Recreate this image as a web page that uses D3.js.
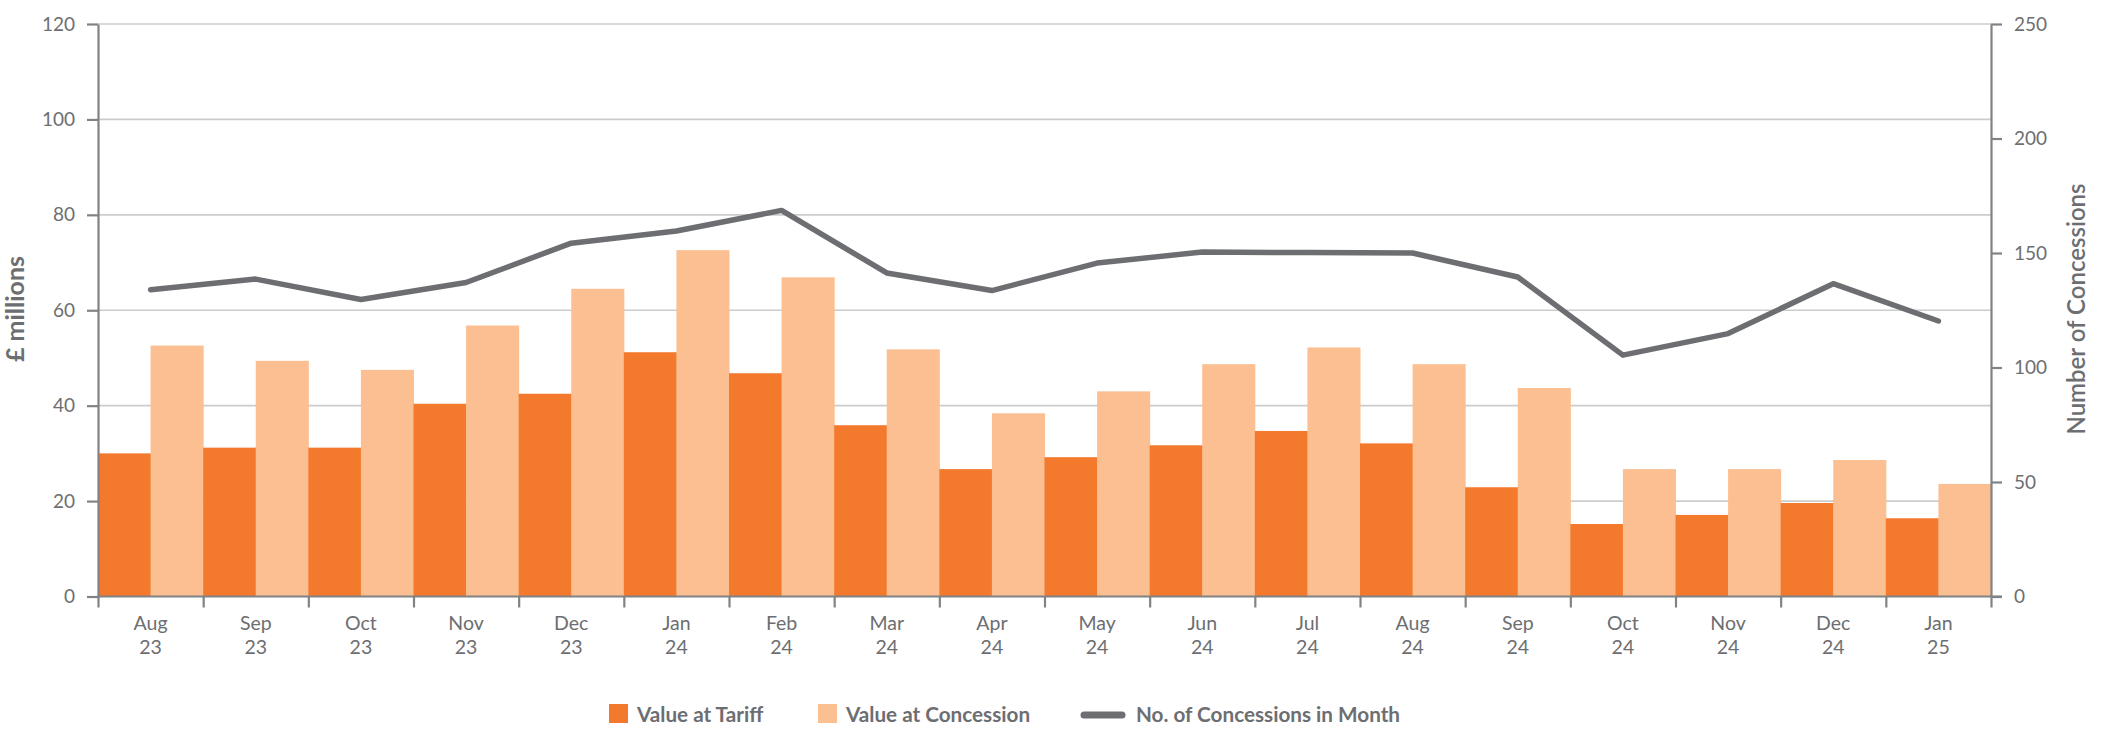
<!DOCTYPE html>
<html>
<head>
<meta charset="utf-8">
<script src="https://cdn.jsdelivr.net/npm/d3@7"></script>
<style>
  html, body { margin: 0; padding: 0; background: #fff; }
  svg { display: block; }
  text { font-family: Lato, "Open Sans", sans-serif; fill: #6d6e71; }
</style>
</head>
<body>
<svg id="chart" width="2112" height="736"></svg>
<script>
// ---- data ----
const months = ["Aug|23","Sep|23","Oct|23","Nov|23","Dec|23","Jan|24","Feb|24","Mar|24","Apr|24","May|24","Jun|24","Jul|24","Aug|24","Sep|24","Oct|24","Nov|24","Dec|24","Jan|25"];
const valueAtTariff = [30.0, 31.2, 31.2, 40.4, 42.5, 51.2, 46.8, 35.9, 26.7, 29.2, 31.7, 34.7, 32.1, 22.9, 15.2, 17.1, 19.6, 16.4];
const valueAtConcession = [52.6, 49.4, 47.5, 56.8, 64.5, 72.6, 66.9, 51.8, 38.4, 43.0, 48.7, 52.2, 48.7, 43.7, 26.7, 26.7, 28.6, 23.6];
const concessions = [134, 138.6, 129.7, 137.1, 154.3, 159.6, 168.6, 141.3, 133.6, 145.6, 150.4, 150.2, 150.0, 139.5, 105.4, 114.8, 136.6, 120.3];
const leftTicks = [0, 20, 40, 60, 80, 100, 120];
const rightTicks = [0, 50, 100, 150, 200, 250];
const seriesNames = ["Value at Tariff", "Value at Concession", "No. of Concessions in Month"];
const colors = { tariff: "#f37a2d", concession: "#fbbf91", line: "#6d6e71", grid: "#cccccc", axis: "#808285" };

(function () {
// ---- layout ----
const svg = d3.select("#chart");
const pL = 98, pR = 1991, pT = 24, pB = 596.5;

const x = d3.scaleBand().domain(months).range([pL, pR]).padding(0);
const xs = d3.scaleBand().domain(["tariff", "concession"]).range([0, x.bandwidth()]).padding(0);
const yL = d3.scaleLinear().domain([0, 120]).range([pB, pT]);
const yR = d3.scaleLinear().domain([0, 250]).range([pB, pT]);

// gridlines
svg.append("g").selectAll("line").data(leftTicks.filter(d => d > 0)).join("line")
  .attr("x1", pL).attr("x2", pR)
  .attr("y1", d => yL(d)).attr("y2", d => yL(d))
  .attr("stroke", colors.grid).attr("stroke-width", 1.6);

// bars
const groups = svg.append("g").selectAll("g").data(months).join("g")
  .attr("transform", d => `translate(${x(d)},0)`);
groups.append("rect")
  .attr("x", xs("tariff")).attr("width", xs.bandwidth() + 0.5)
  .attr("y", (d, i) => yL(valueAtTariff[i]))
  .attr("height", (d, i) => pB - yL(valueAtTariff[i]))
  .attr("fill", colors.tariff);
groups.append("rect")
  .attr("x", xs("concession")).attr("width", xs.bandwidth() + 0.5)
  .attr("y", (d, i) => yL(valueAtConcession[i]))
  .attr("height", (d, i) => pB - yL(valueAtConcession[i]))
  .attr("fill", colors.concession);

// line
const line = d3.line()
  .x((d, i) => x(months[i]) + x.bandwidth() / 2)
  .y(d => yR(d));
svg.append("path").datum(concessions)
  .attr("d", line)
  .attr("fill", "none")
  .attr("stroke", colors.line)
  .attr("stroke-width", 5.5)
  .attr("stroke-linejoin", "round")
  .attr("stroke-linecap", "round");

// axes
function styleAxis(g) {
  g.select(".domain").attr("stroke", colors.axis).attr("stroke-width", 2.2);
  g.selectAll(".tick line").attr("stroke", colors.axis).attr("stroke-width", 2.2);
  g.selectAll(".tick text").attr("fill", "#6d6e71").style("font-size", "19px").style("font-family", "Lato, sans-serif");
}

const axL = svg.append("g").attr("transform", `translate(${pL},0)`)
  .call(d3.axisLeft(yL).tickValues(leftTicks).tickSize(11).tickPadding(12).tickSizeOuter(0));
styleAxis(axL);

const axR = svg.append("g").attr("transform", `translate(${pR},0)`)
  .call(d3.axisRight(yR).tickValues(rightTicks).tickSize(11).tickPadding(12).tickSizeOuter(0));
styleAxis(axR);

// bottom axis: ticks at category boundaries
const boundaries = months.map(m => x(m)).concat([pR]);
const xb = d3.scaleLinear().domain([pL, pR]).range([pL, pR]);
const axB = svg.append("g").attr("transform", `translate(0,${pB})`)
  .call(d3.axisBottom(xb).tickValues(boundaries).tickSize(11).tickSizeOuter(0).tickFormat(""));
styleAxis(axB);
axB.select(".domain").attr("d", `M${pL},0H${pR + 11}`);

// x category labels (two lines)
const xl = svg.append("g").selectAll("text").data(months).join("text")
  .attr("text-anchor", "middle")
  .style("font-size", "19.5px")
  .attr("transform", d => `translate(${x(d) + x.bandwidth() / 2},0)`);
xl.append("tspan").attr("x", 0).attr("y", 630).text(d => d.split("|")[0]);
xl.append("tspan").attr("x", 0).attr("y", 654).text(d => d.split("|")[1]);

// axis titles
svg.append("text")
  .attr("transform", "translate(24,309) rotate(-90)")
  .attr("text-anchor", "middle")
  .style("font-size", "25px").style("font-weight", "bold")
  .text("£ millions");
svg.append("text")
  .attr("transform", "translate(2085,309) rotate(-90)")
  .attr("text-anchor", "middle")
  .style("font-size", "24px").style("font-weight", "600")
  .text("Number of Concessions");

// legend
const lg = svg.append("g");
lg.append("rect").attr("x", 609).attr("y", 704).attr("width", 19).attr("height", 19).attr("fill", colors.tariff);
lg.append("text").attr("x", 637).attr("y", 722).style("font-size", "20.7px").style("font-weight", "bold").text(seriesNames[0]);
lg.append("rect").attr("x", 818).attr("y", 704).attr("width", 19).attr("height", 19).attr("fill", colors.concession);
lg.append("text").attr("x", 846).attr("y", 722).style("font-size", "20.7px").style("font-weight", "bold").text(seriesNames[1]);
lg.append("line").attr("x1", 1084).attr("x2", 1122).attr("y1", 715).attr("y2", 715)
  .attr("stroke", colors.line).attr("stroke-width", 7).attr("stroke-linecap", "round");
lg.append("text").attr("x", 1136).attr("y", 722).style("font-size", "20.7px").style("font-weight", "bold").text(seriesNames[2]);
})();
</script>
</body>
</html>
